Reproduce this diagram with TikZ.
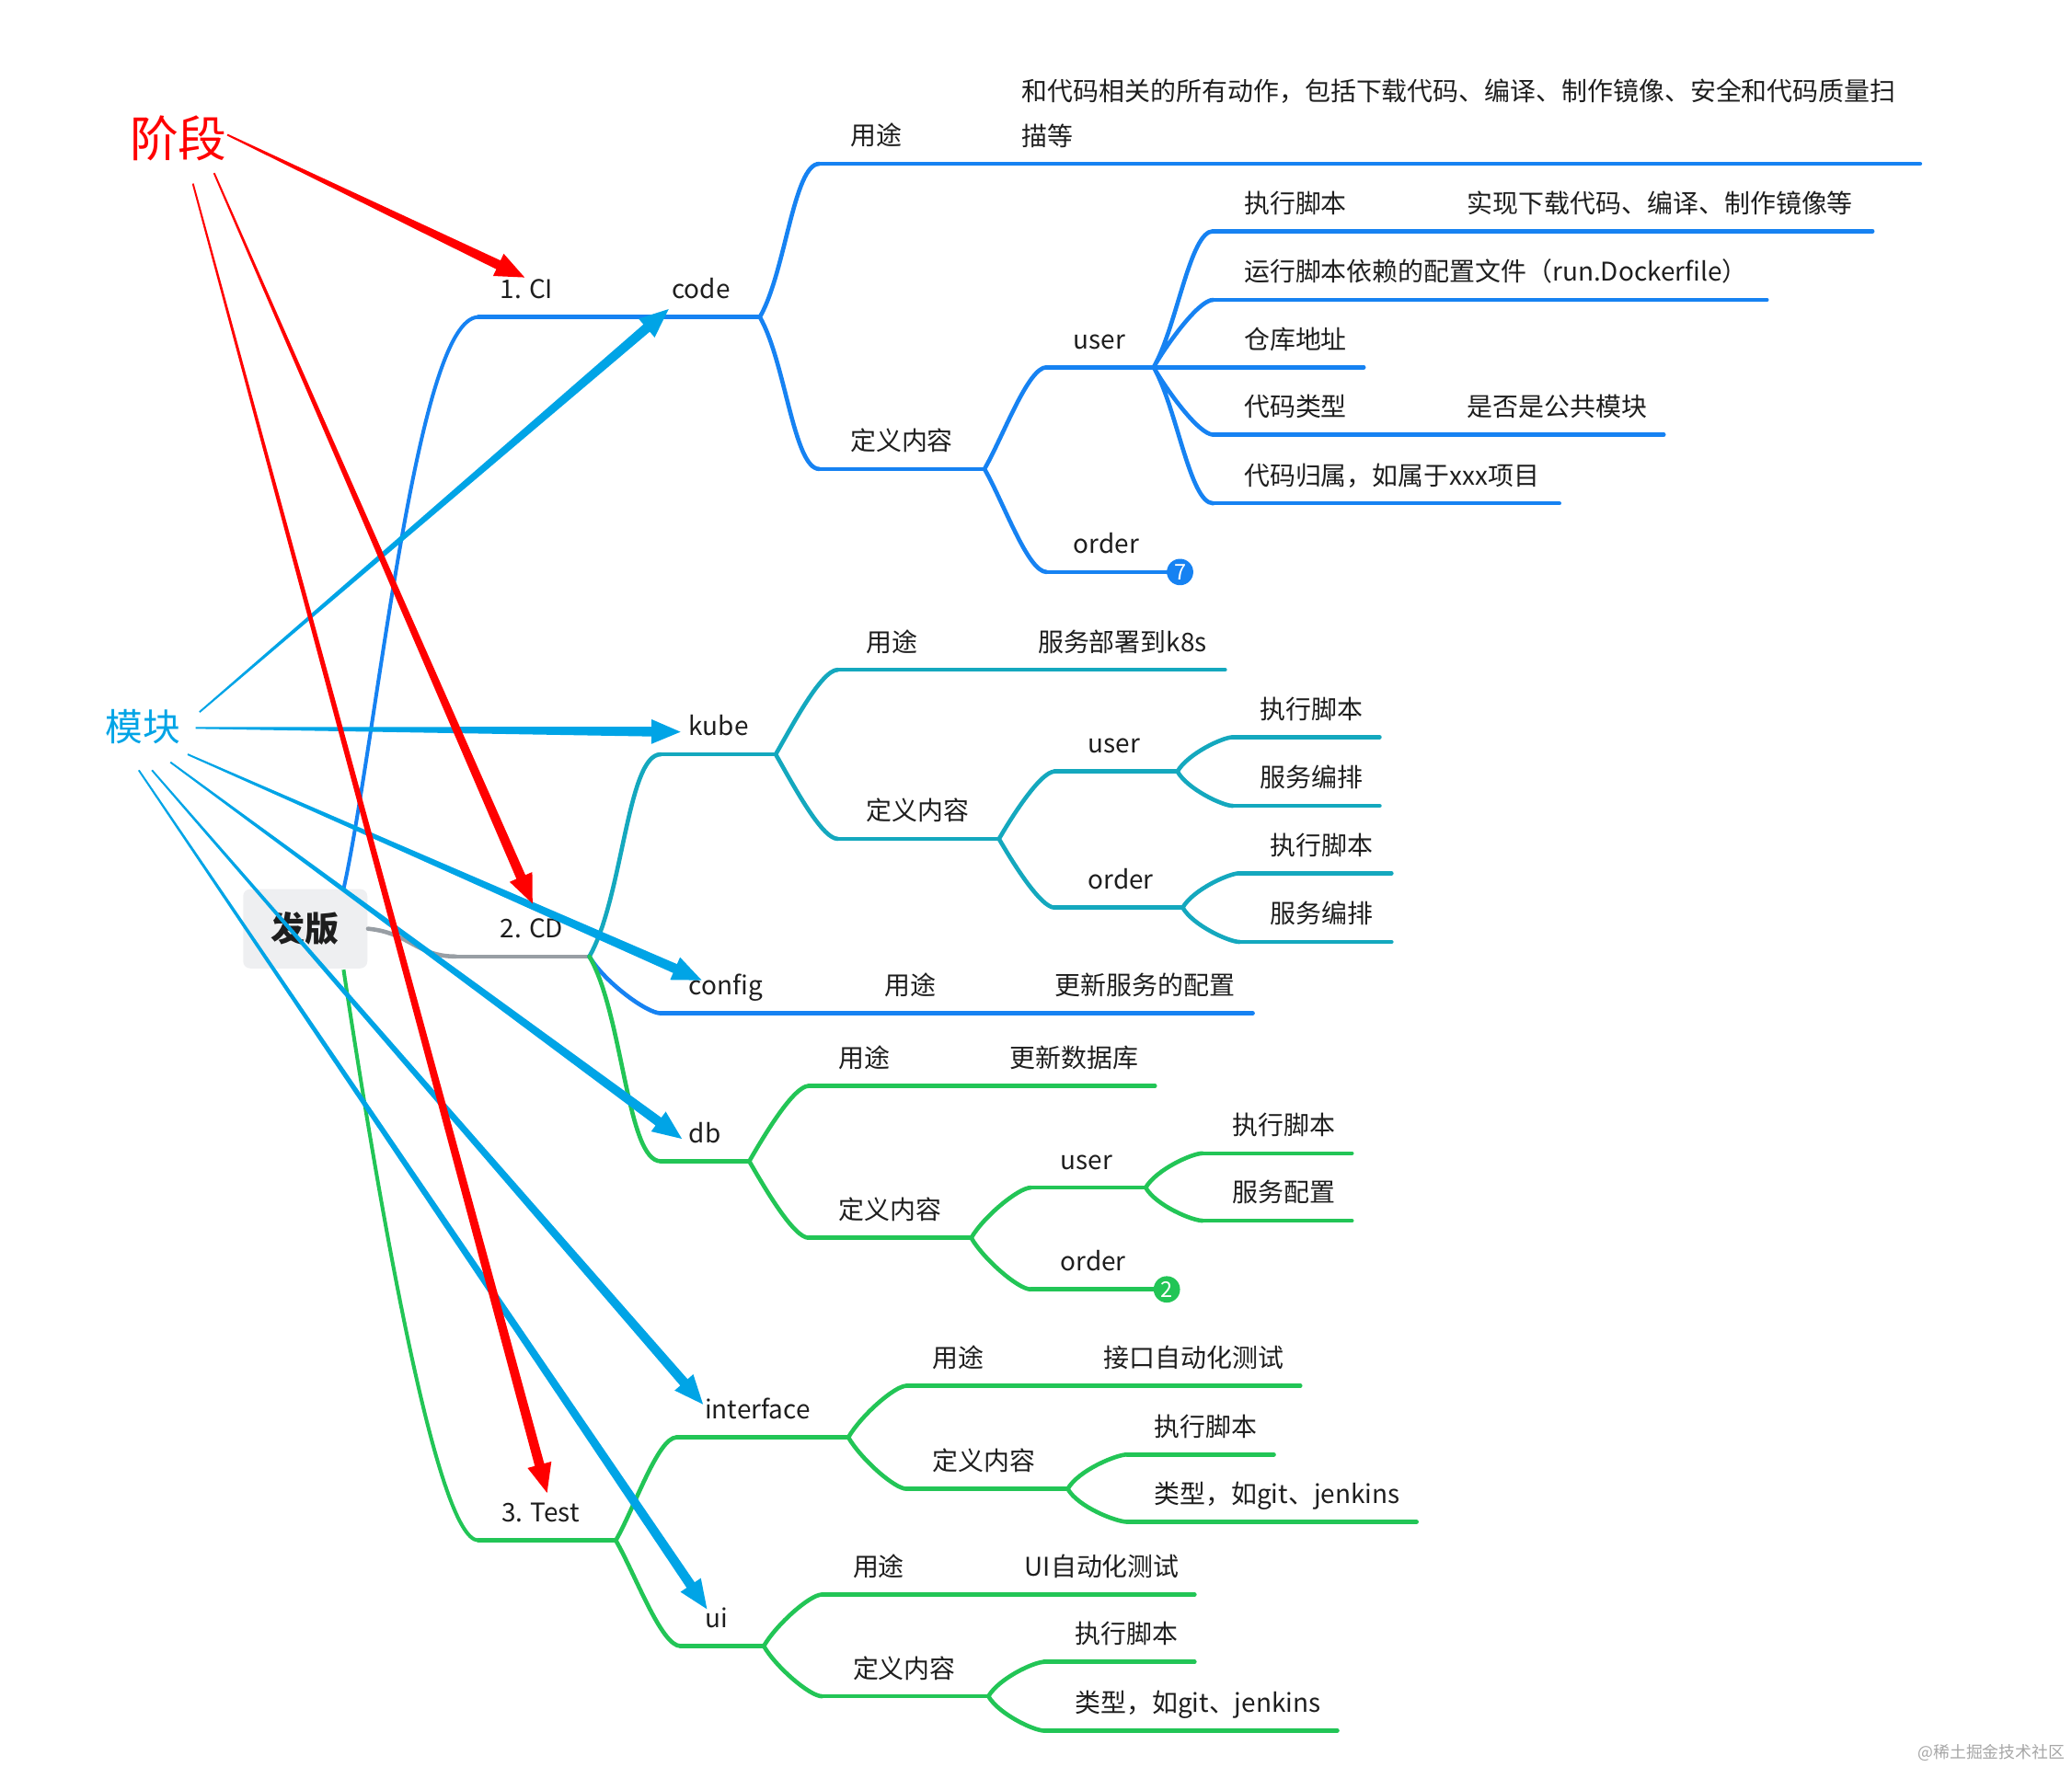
\documentclass[tikz,border=0pt]{standalone}
\usepackage{fontspec}
\setmainfont{Noto Sans CJK SC}
\usepackage{tikz}
\usetikzlibrary{calc}
\definecolor{ciblue}{RGB}{22,130,242}
\definecolor{kubeteal}{RGB}{20,168,190}
\definecolor{testgreen}{RGB}{34,197,86}
\definecolor{cdgray}{RGB}{152,158,164}
\definecolor{rootfill}{RGB}{238,239,241}
\definecolor{txt}{RGB}{30,30,30}
\definecolor{notered}{RGB}{255,0,0}
\definecolor{notecyan}{RGB}{0,164,230}
\newcommand{\topicfont}{\fontsize{8.3}{10}\selectfont}

% topic with its underline: name, colour, line x from, line x to, line y, text x, text
\newcommand{\mmtopic}[7]{%
  \coordinate (#1-s) at (#3,#5);
  \coordinate (#1-e) at (#4,#5);
  \draw[#2,topicline] (#1-s) -- (#1-e);
  \node[topic] (#1) at (#6,#5+14) {#7};
}

% tapered note arrow: colour, tail, tip
\newcommand{\notearrow}[3]{%
  \coordinate (nb) at ($(#3)!3.3mm!(#2)$);
  \fill[#1] ($(#2)!0.1mm!90:(#3)$) -- ($(nb)!0.55mm!90:(#3)$) -- ($(nb)!1.4mm!90:(#3)$)
    -- (#3) -- ($(nb)!1.4mm!-90:(#3)$) -- ($(nb)!0.55mm!-90:(#3)$) -- ($(#2)!0.1mm!-90:(#3)$) -- cycle;
}

\begin{document}
\begin{tikzpicture}[x=0.15mm,y=0.15mm,
  topicline/.style={line width=0.48mm,line cap=round},
  rootline/.style={line width=0.42mm},
  topic/.style={anchor=base west,inner sep=0pt,font=\topicfont,text=txt},
  bup/.style={out=60,in=180,out looseness=0.8,in looseness=0.4},
  bdown/.style={out=-60,in=180,out looseness=0.8,in looseness=0.4},
  badge/.style={circle,minimum size=3mm,inner sep=0pt,text=white,font=\fontsize{7}{7}\selectfont},
  rootbox/.style={fill=rootfill,rounded corners=0.8mm,minimum width=14.1mm,minimum height=9mm,
    inner sep=0pt,text=txt,font=\fontsize{11}{13}\selectfont\bfseries}]
  \useasboundingbox (0,0) rectangle (1568,-1337);

  \node[rootbox] (root) at (231,-703) {发版};

  % 1. CI
  \mmtopic{ci}{ciblue}{362}{430}{-240}{378}{1. CI}
  \mmtopic{code}{ciblue}{430}{575}{-240}{508}{code}
  \mmtopic{cuse}{ciblue}{620}{1453}{-124}{643}{用途}
  \node[topic,align=left,font=\fontsize{8.3}{14.5}\selectfont] (cuse-d) at (773,-110.5)
    {和代码相关的所有动作，包括下载代码、编译、制作镜像、安全和代码质量扫\\描等};
  \mmtopic{cdef}{ciblue}{620}{745}{-355}{643}{定义内容}
  \mmtopic{cuser}{ciblue}{792}{873}{-278}{812}{user}
  \mmtopic{corder}{ciblue}{792}{893}{-433}{812}{order}
  \mmtopic{cu1}{ciblue}{918}{1417}{-175}{941}{执行脚本}
  \node[topic] (cu1-d) at (1110,-161) {实现下载代码、编译、制作镜像等};
  \mmtopic{cu2}{ciblue}{918}{1337}{-227}{941}{运行脚本依赖的配置文件（run.Dockerfile）}
  \mmtopic{cu3}{ciblue}{873}{1032}{-278}{941}{仓库地址}
  \mmtopic{cu4}{ciblue}{918}{1259}{-329}{941}{代码类型}
  \node[topic] (cu4-d) at (1110,-315) {是否是公共模块};
  \mmtopic{cu5}{ciblue}{918}{1180}{-381}{941}{代码归属，如属于xxx项目}
  \draw[ciblue,topicline] (code-e) to[bup] (cuse-s) (code-e) to[bdown] (cdef-s)
    (cdef-e) to[bup] (cuser-s) (cdef-e) to[bdown] (corder-s)
    (cuser-e) to[bup] (cu1-s) (cuser-e) to[bup] (cu2-s)
    (cuser-e) to[bdown] (cu4-s) (cuser-e) to[bdown] (cu5-s);
  \node[badge,fill=ciblue] (corder-b) at (corder-e) {7};

  % 2. CD
  \mmtopic{cd}{cdgray}{345}{446}{-724}{378}{2. CD}
  \mmtopic{kube}{kubeteal}{500}{587}{-571}{521}{kube}
  \mmtopic{kuse}{kubeteal}{634}{927}{-507}{655}{用途}
  \node[topic] (kuse-d) at (785,-493) {服务部署到k8s};
  \mmtopic{kdef}{kubeteal}{634}{756}{-635}{655}{定义内容}
  \mmtopic{kuser}{kubeteal}{798}{891}{-584}{823}{user}
  \mmtopic{ku1}{kubeteal}{933}{1044}{-558}{953}{执行脚本}
  \mmtopic{ku2}{kubeteal}{933}{1044}{-610}{953}{服务编排}
  \mmtopic{korder}{kubeteal}{798}{895}{-687}{823}{order}
  \mmtopic{ko1}{kubeteal}{938}{1053}{-661}{961}{执行脚本}
  \mmtopic{ko2}{kubeteal}{938}{1053}{-713}{961}{服务编排}
  \draw[kubeteal,topicline] (cd-e) to[bup] (kube-s)
    (kube-e) to[bup] (kuse-s) (kube-e) to[bdown] (kdef-s)
    (kdef-e) to[bup] (kuser-s) (kdef-e) to[bdown] (korder-s)
    (kuser-e) to[bup] (ku1-s) (kuser-e) to[bdown] (ku2-s)
    (korder-e) to[bup] (ko1-s) (korder-e) to[bdown] (ko2-s);

  \mmtopic{config}{ciblue}{500}{640}{-767}{521}{config}
  \mmtopic{cfuse}{ciblue}{640}{948}{-767}{669}{用途}
  \node[topic] (cfuse-d) at (798,-753) {更新服务的配置};
  \draw[ciblue,topicline] (cd-e) to[bdown] (config-s);

  \mmtopic{db}{testgreen}{500}{567}{-879}{521}{db}
  \mmtopic{duse}{testgreen}{612}{874}{-822}{634}{用途}
  \node[topic] (duse-d) at (764,-808) {更新数据库};
  \mmtopic{ddef}{testgreen}{612}{735}{-937}{634}{定义内容}
  \mmtopic{duser}{testgreen}{780}{867}{-899}{802}{user}
  \mmtopic{du1}{testgreen}{910}{1023}{-873}{932}{执行脚本}
  \mmtopic{du2}{testgreen}{910}{1023}{-924}{932}{服务配置}
  \mmtopic{dorder}{testgreen}{780}{883}{-976}{802}{order}
  \draw[testgreen,topicline] (cd-e) to[bdown] (db-s)
    (db-e) to[bup] (duse-s) (db-e) to[bdown] (ddef-s)
    (ddef-e) to[bup] (duser-s) (ddef-e) to[bdown] (dorder-s)
    (duser-e) to[bup] (du1-s) (duser-e) to[bdown] (du2-s);
  \node[badge,fill=testgreen] (dorder-b) at (dorder-e) {2};

  % 3. Test
  \mmtopic{test}{testgreen}{362}{466}{-1166}{379}{3. Test}
  \mmtopic{iface}{testgreen}{512}{642}{-1088}{533}{interface}
  \mmtopic{iuse}{testgreen}{686}{984}{-1049}{705}{用途}
  \node[topic] (iuse-d) at (835,-1035) {接口自动化测试};
  \mmtopic{idef}{testgreen}{686}{808}{-1127}{705}{定义内容}
  \mmtopic{iu1}{testgreen}{853}{964}{-1101}{873}{执行脚本}
  \mmtopic{iu2}{testgreen}{853}{1072}{-1152}{873}{类型，如git、jenkins}
  \mmtopic{ui}{testgreen}{515}{578}{-1246}{533}{ui}
  \mmtopic{uuse}{testgreen}{622}{904}{-1207}{645}{用途}
  \node[topic] (uuse-d) at (775,-1193) {UI自动化测试};
  \mmtopic{udef}{testgreen}{622}{748}{-1284}{645}{定义内容}
  \mmtopic{uu1}{testgreen}{790}{904}{-1258}{813}{执行脚本}
  \mmtopic{uu2}{testgreen}{790}{1012}{-1310}{813}{类型，如git、jenkins}
  \draw[testgreen,topicline] (test-e) to[bup] (iface-s) (test-e) to[bdown] (ui-s)
    (iface-e) to[bup] (iuse-s) (iface-e) to[bdown] (idef-s)
    (idef-e) to[bup] (iu1-s) (idef-e) to[bdown] (iu2-s)
    (ui-e) to[bup] (uuse-s) (ui-e) to[bdown] (udef-s)
    (udef-e) to[bup] (uu1-s) (udef-e) to[bdown] (uu2-s);

  % root to stages
  \coordinate (root-up) at (260,-673);
  \coordinate (root-down) at (260,-734);
  \draw[ciblue,rootline] (root-up) .. controls (285,-560) and (315,-240) .. (ci-s);
  \draw[testgreen,rootline] (root-down) .. controls (285,-900) and (330,-1166) .. (test-s);
  \draw[cdgray,topicline] (root.east) .. controls (310,-706) and (315,-724) .. (cd-s);

  % notes
  \node[inner sep=0pt,text=notered,font=\fontsize{15.7}{18}\selectfont] (stage) at (135,-105) {阶段};
  \node[inner sep=0pt,text=notecyan,font=\fontsize{12.1}{14}\selectfont] (module) at (108,-550) {模块};
  \coordinate (stage-a) at (172,-102);
  \coordinate (stage-b) at (162,-131);
  \coordinate (stage-c) at (146,-139);
  \coordinate (tip-ci) at (397,-210);
  \coordinate (tip-cd) at (403,-684);
  \coordinate (tip-test) at (414,-1130);
  \coordinate (module-a) at (151,-539);
  \coordinate (module-b) at (148,-551);
  \coordinate (module-c) at (142,-571);
  \coordinate (module-d) at (129,-577);
  \coordinate (module-e) at (115,-583);
  \coordinate (module-f) at (105,-583);
  \coordinate (tip-code) at (506,-234);
  \coordinate (tip-kube) at (515,-554);
  \coordinate (tip-config) at (531,-742);
  \coordinate (tip-db) at (516,-862);
  \coordinate (tip-iface) at (532,-1063);
  \coordinate (tip-ui) at (535,-1218);
  \notearrow{notecyan}{module-a}{tip-code}
  \notearrow{notecyan}{module-b}{tip-kube}
  \notearrow{notecyan}{module-c}{tip-config}
  \notearrow{notecyan}{module-d}{tip-db}
  \notearrow{notecyan}{module-e}{tip-iface}
  \notearrow{notecyan}{module-f}{tip-ui}
  \notearrow{notered}{stage-a}{tip-ci}
  \notearrow{notered}{stage-b}{tip-cd}
  \notearrow{notered}{stage-c}{tip-test}

  \node[anchor=base east,inner sep=0pt,text=black!35,font=\fontsize{5.3}{6}\selectfont] (mark)
    at (1563,-1331) {@稀土掘金技术社区};
\end{tikzpicture}
\end{document}
